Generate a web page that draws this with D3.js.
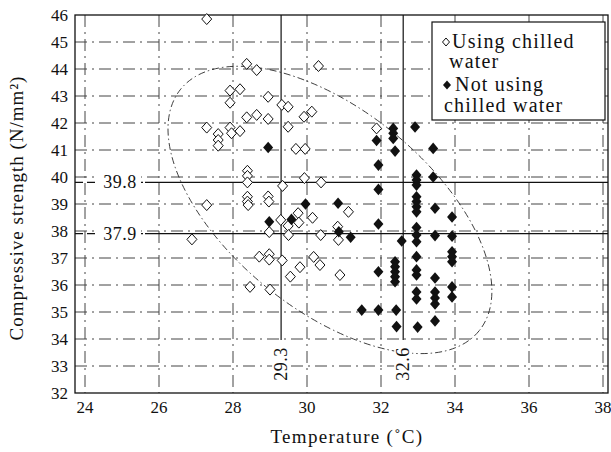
<!DOCTYPE html>
<html>
<head>
<meta charset="utf-8">
<script src="https://cdn.jsdelivr.net/npm/d3@7"></script>
<style>
  svg text { font-family: "Times New Roman", "Liberation Serif", Times, serif !important; }
</style>
</head>
<body style="margin:0">
<script>
// temperature (C), compressive strength (N/mm2)
var chilled = [
  [27.29,45.85],[28.37,44.19],[28.64,43.96],[30.31,44.11],[27.92,43.20],[28.19,43.25],
  [27.92,42.75],[28.95,42.97],[29.32,42.67],[29.49,42.60],[30.13,42.42],[29.92,42.23],
  [28.37,42.21],[28.64,42.30],[28.95,42.15],[27.29,41.83],[27.60,41.59],[27.60,41.37],
  [27.60,41.16],[27.92,41.83],[27.96,41.62],[28.19,41.70],[29.49,41.86],[29.70,41.04],
  [29.95,41.04],[28.39,40.23],[28.39,40.04],[28.39,39.80],[29.34,39.67],[29.93,39.96],
  [30.38,39.80],[28.39,39.27],[28.39,39.09],[28.41,38.96],[28.95,39.28],[28.97,39.09],
  [27.29,38.96],[29.29,38.41],[29.76,38.66],[29.78,38.31],[30.15,38.49],[31.12,38.71],
  [28.98,37.96],[29.49,38.19],[29.50,37.85],[30.37,37.85],[30.83,38.16],[30.85,37.67],
  [26.89,37.69],[28.71,37.05],[28.98,37.14],[28.98,36.94],[29.33,36.91],[30.18,37.04],
  [30.35,36.74],[29.81,36.66],[29.55,36.31],[30.89,36.37],[28.46,35.93],[29.00,35.83],
  [31.88,41.80]
];
var notChilled = [
  [28.95,41.09],[29.96,39.00],[30.84,39.03],[28.98,38.34],[29.58,38.43],[30.86,37.97],
  [31.18,37.77],[31.88,41.35],[32.33,41.80],[32.33,41.62],[32.33,41.43],[32.38,40.96],
  [32.92,41.85],[33.41,41.06],[31.93,40.44],[32.96,40.07],[32.96,39.89],[32.96,39.70],
  [33.41,40.00],[31.93,39.54],[32.96,39.27],[32.96,39.09],[32.96,38.90],[32.96,38.71],
  [33.46,38.84],[33.92,38.52],[31.93,38.26],[32.96,38.13],[32.96,37.85],[32.96,37.60],
  [32.56,37.63],[33.46,37.83],[33.92,37.81],[33.92,37.23],[33.92,37.05],[33.92,36.86],
  [32.96,37.05],[32.38,36.86],[32.38,36.68],[32.38,36.49],[32.38,36.31],[32.38,36.12],
  [31.93,36.49],[32.96,36.56],[32.96,36.37],[33.46,36.26],[33.92,35.93],[33.92,35.56],
  [32.96,35.74],[32.96,35.48],[33.46,35.74],[33.46,35.52],[33.46,35.30],[31.48,35.07],
  [31.93,35.07],[32.41,35.07],[32.42,34.46],[32.99,34.44],[33.46,34.67]
];
var xTicks = [24, 26, 28, 30, 32, 34, 36, 38];
var yTicks = [32, 33, 34, 35, 36, 37, 38, 39, 40, 41, 42, 43, 44, 45, 46];
var refTemps = [29.3, 32.6];
var refStrengths = [39.8, 37.9];
var legendLabels = [["Using chilled", "water"], ["Not using", "chilled water"]];
var ellipseCenter = [30.62, 38.78];

var W = 611, H = 452;
var pL = 75, pR = 608, pT = 15, pB = 393;
var FONT = "Liberation Serif";

var x = d3.scaleLinear().domain([24, 38]).range([85, 603]);
var y = d3.scaleLinear().domain([32, 46]).range([393, 15]);

var svg = d3.select("body").append("svg")
    .attr("width", W)
    .attr("height", H);
svg.append("rect").attr("width", W).attr("height", H).attr("fill", "#fff");

function label(sel) {
  return sel.attr("font-family", FONT).style("font-family", "'" + FONT + "'").attr("fill", "#111");
}

// grid
var grid = svg.append("g").attr("stroke", "#444").attr("stroke-width", 1)
    .attr("stroke-dasharray", "12,5,2,5").attr("fill", "none");
grid.selectAll(".gy").data(yTicks.filter(d => d > 32 && d < 46)).enter().append("line")
    .attr("x1", pL).attr("x2", pR)
    .attr("y1", d => y(d)).attr("y2", d => y(d));
grid.selectAll(".gx").data(xTicks).enter().append("line")
    .attr("x1", d => x(d)).attr("x2", d => x(d))
    .attr("y1", pT).attr("y2", pB);

// ellipse (dash-dot)
svg.append("ellipse")
    .attr("transform", "translate(" + x(ellipseCenter[0]) + "," + y(ellipseCenter[1]) + ") rotate(39)")
    .attr("rx", 192).attr("ry", 100)
    .attr("fill", "none").attr("stroke", "#222").attr("stroke-width", 0.8)
    .attr("stroke-dasharray", "7,3,1.5,3");

// reference lines
var ref = svg.append("g").attr("stroke", "#111").attr("stroke-width", 1.2);
ref.selectAll(".rv").data(refTemps).enter().append("line")
    .attr("x1", d => x(d)).attr("x2", d => x(d))
    .attr("y1", pT).attr("y2", 340);
ref.selectAll(".rh").data(refStrengths).enter().append("line")
    .attr("x1", 145).attr("x2", pR)
    .attr("y1", d => y(d)).attr("y2", d => y(d));
ref.selectAll(".rhl").data(refStrengths).enter().append("line")
    .attr("x1", pL).attr("x2", 145)
    .attr("stroke-dasharray", "8,4")
    .attr("y1", d => y(d)).attr("y2", d => y(d));

// white boxes behind ref labels
svg.selectAll(".rhb").data(refStrengths).enter().append("rect")
    .attr("x", 99).attr("y", d => y(d) - 9).attr("width", 42).attr("height", 18).attr("fill", "#fff");
svg.selectAll(".rvb").data(refTemps).enter().append("rect")
    .attr("x", d => x(d) - 9).attr("y", 342).attr("width", 18).attr("height", 42).attr("fill", "#fff");
label(svg.selectAll(".rht").data(refStrengths).enter().append("text"))
    .attr("x", 120).attr("y", d => y(d) + 6)
    .attr("text-anchor", "middle").attr("font-size", 18).attr("letter-spacing", 0.5)
    .text(d => d.toFixed(1));
label(svg.selectAll(".rvt").data(refTemps).enter().append("text"))
    .attr("transform", d => "translate(" + (x(d) + 6) + ",364) rotate(-90)")
    .attr("text-anchor", "middle").attr("font-size", 18).attr("letter-spacing", 0.5)
    .text(d => d.toFixed(1));

// frame
svg.append("rect").attr("x", pL).attr("y", pT)
    .attr("width", pR - pL).attr("height", pB - pT)
    .attr("fill", "none").attr("stroke", "#111").attr("stroke-width", 1.3);

// ticks
label(svg.selectAll(".yt").data(yTicks).enter().append("text"))
    .attr("x", 68).attr("y", d => y(d) + 6)
    .attr("text-anchor", "end").attr("font-size", 17)
    .text(d => d);
label(svg.selectAll(".xt").data(xTicks).enter().append("text"))
    .attr("x", d => x(d)).attr("y", 413)
    .attr("text-anchor", "middle").attr("font-size", 17)
    .text(d => d);

// axis titles
label(svg.append("text")).attr("x", 347).attr("y", 443)
    .attr("text-anchor", "middle").attr("font-size", 19).attr("letter-spacing", 1.3)
    .text("Temperature (\u02daC)");
label(svg.append("text")).attr("transform", "translate(23,208) rotate(-90)")
    .attr("text-anchor", "middle").attr("font-size", 19).attr("letter-spacing", 1)
    .text("Compressive strength (N/mm\u00b2)");

// markers
function diamond(w, h) {
  return "M0," + (-h) + "L" + w + ",0L0," + h + "L" + (-w) + ",0Z";
}
svg.append("g").selectAll("path").data(chilled).enter().append("path")
    .attr("transform", d => "translate(" + x(d[0]) + "," + y(d[1]) + ")")
    .attr("d", diamond(5, 5.5))
    .attr("fill", "#fff").attr("stroke", "#111").attr("stroke-width", 1);
svg.append("g").selectAll("path").data(notChilled).enter().append("path")
    .attr("transform", d => "translate(" + x(d[0]) + "," + y(d[1]) + ")")
    .attr("d", diamond(5, 5.8))
    .attr("fill", "#111");

// legend
var lg = svg.append("g");
lg.append("rect").attr("x", 432).attr("y", 22).attr("width", 173).attr("height", 98)
    .attr("fill", "#fff").attr("stroke", "#111").attr("stroke-width", 1.2);
lg.append("path").attr("transform", "translate(446,42)").attr("d", diamond(3.5, 4))
    .attr("fill", "#fff").attr("stroke", "#111");
lg.append("path").attr("transform", "translate(447,85)").attr("d", diamond(4, 4.5))
    .attr("fill", "#111");
var lgText = [
  {t: legendLabels[0][0], x: 452, y: 48},
  {t: legendLabels[0][1], x: 449, y: 68},
  {t: legendLabels[1][0], x: 455, y: 91},
  {t: legendLabels[1][1], x: 444, y: 112}
];
label(lg.selectAll("text").data(lgText).enter().append("text"))
    .attr("x", d => d.x).attr("y", d => d.y)
    .attr("font-size", 20).attr("letter-spacing", 1.2)
    .text(d => d.t);
</script>
</body>
</html>
